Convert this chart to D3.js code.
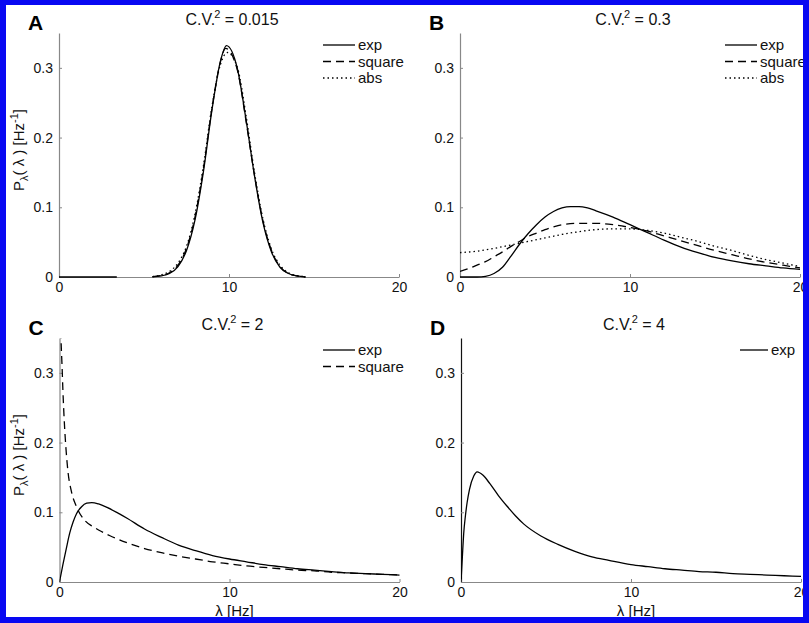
<!DOCTYPE html>
<html>
<head>
<meta charset="utf-8">
<script src="https://cdn.jsdelivr.net/npm/d3@7"></script>
<style>
  body { margin: 0; background: #fff; }
  svg { display: block; font-family: "Liberation Sans", Arial, sans-serif; }
</style>
</head>
<body>
<div id="chart"></div>
<script>
// values (lambda in Hz, density in 1/Hz)
const panelLetters = ["A", "B", "C", "D"];
const cvValues = ["0.015", "0.3", "2", "4"];
const yTickValues = [0, 0.1, 0.2, 0.3];
const xTickValues = [0, 10, 20];

// A: C.V.^2 = 0.015
const aExpX = [0, 3.4, 3.5, 5.5, 6, 6.5, 7, 7.5, 8, 8.5, 9, 9.5, 9.85, 10.5, 11, 11.5, 12, 12.5, 13, 13.5, 14, 14.5];
const aExpY = [0, 0, null, 0.0003, 0.0015, 0.005, 0.015, 0.038, 0.082, 0.152, 0.24, 0.31, 0.332, 0.298, 0.226, 0.145, 0.078, 0.036, 0.014, 0.005, 0.0015, 0];
const aSquareX = [5.5, 6, 6.5, 7, 7.5, 8, 8.5, 9, 9.5, 9.8, 10.5, 11, 11.5, 12, 12.5, 13, 13.5, 14, 14.5];
const aSquareY = [0.0004, 0.002, 0.006, 0.017, 0.041, 0.086, 0.156, 0.242, 0.309, 0.328, 0.296, 0.224, 0.146, 0.08, 0.038, 0.015, 0.005, 0.0015, 0];
const aAbsX = [5.5, 6, 6.5, 7, 7.5, 8, 8.5, 9, 9.5, 9.9, 10.5, 11, 11.5, 12, 12.5, 13, 13.5, 14, 14.5];
const aAbsY = [0.0006, 0.003, 0.008, 0.02, 0.044, 0.09, 0.16, 0.245, 0.305, 0.322, 0.3, 0.232, 0.15, 0.083, 0.04, 0.017, 0.006, 0.002, 0.0005];

// B: C.V.^2 = 0.3
const bExpX = [0, 1, 1.5, 2, 2.5, 3, 3.5, 4, 4.5, 5, 5.5, 6, 6.5, 7, 7.5, 8, 9, 10, 11, 12, 13, 14, 15, 16, 17, 18, 19, 20];
const bExpY = [0, 0, 0.001, 0.005, 0.014, 0.03, 0.047, 0.062, 0.075, 0.086, 0.094, 0.099, 0.101, 0.101, 0.099, 0.095, 0.086, 0.075, 0.064, 0.053, 0.043, 0.035, 0.028, 0.023, 0.019, 0.016, 0.013, 0.011];
const bSquareX = [0, 0.5, 1, 1.5, 2, 2.5, 3, 3.5, 4, 4.5, 5, 5.5, 6, 7, 8, 9, 10, 11, 12, 13, 14, 15, 16, 17, 18, 19, 20];
const bSquareY = [0.008, 0.012, 0.017, 0.022, 0.029, 0.036, 0.044, 0.051, 0.058, 0.063, 0.068, 0.072, 0.075, 0.077, 0.077, 0.075, 0.071, 0.066, 0.059, 0.052, 0.045, 0.038, 0.032, 0.026, 0.021, 0.017, 0.013];
const bAbsX = [0, 1, 2, 3, 4, 5, 6, 7, 8, 9, 10, 11, 12, 13, 14, 15, 16, 17, 18, 19, 20];
const bAbsY = [0.035, 0.037, 0.041, 0.046, 0.051, 0.056, 0.061, 0.065, 0.068, 0.069, 0.069, 0.067, 0.063, 0.057, 0.051, 0.044, 0.038, 0.031, 0.025, 0.02, 0.015];

// C: C.V.^2 = 2
const cExpX = [0, 0.2, 0.4, 0.6, 0.8, 1, 1.3, 1.6, 1.9, 2.3, 2.8, 3.5, 4, 5, 6, 7, 8, 9, 10, 11, 12, 13, 14, 15, 16, 17, 18, 19, 20];
const cExpY = [0, 0.025, 0.048, 0.07, 0.086, 0.098, 0.108, 0.113, 0.114, 0.112, 0.107, 0.098, 0.091, 0.076, 0.064, 0.053, 0.045, 0.038, 0.033, 0.029, 0.025, 0.022, 0.019, 0.017, 0.015, 0.013, 0.012, 0.011, 0.01];
const cSquareX = [0.05, 0.1, 0.15, 0.2, 0.3, 0.4, 0.5, 0.7, 1, 1.5, 2, 2.5, 3, 4, 5, 6, 7, 8, 9, 10, 11, 12, 13, 14, 15, 16, 17, 18, 19, 20];
const cSquareY = [0.38, 0.34, 0.31, 0.275, 0.222, 0.185, 0.158, 0.13, 0.108, 0.088, 0.079, 0.072, 0.066, 0.056, 0.048, 0.042, 0.037, 0.033, 0.029, 0.026, 0.023, 0.021, 0.019, 0.017, 0.016, 0.014, 0.013, 0.012, 0.011, 0.01];

// D: C.V.^2 = 4
const dExpX = [0, 0.08, 0.16, 0.26, 0.36, 0.5, 0.75, 0.95, 1.3, 1.7, 2.2, 2.7, 3.2, 3.7, 4.7, 5.7, 6.7, 7.7, 8.7, 10, 11, 12, 13, 14, 15, 16, 17, 18, 19, 20];
const dExpY = [0, 0.036, 0.07, 0.095, 0.114, 0.133, 0.152, 0.158, 0.153, 0.141, 0.124, 0.109, 0.095, 0.083, 0.066, 0.054, 0.044, 0.036, 0.031, 0.025, 0.022, 0.019, 0.017, 0.015, 0.014, 0.012, 0.011, 0.01, 0.009, 0.008];

const dashes = { exp: null, square: "8,5", abs: "1.5,3" };

const panels = [
  { left: 59, top: 33, bottom: 277, series: [["exp", aExpX, aExpY], ["square", aSquareX, aSquareY], ["abs", aAbsX, aAbsY]], legendX: 323, yLabel: true, xLabel: false },
  { left: 460, top: 33, bottom: 277, series: [["exp", bExpX, bExpY], ["square", bSquareX, bSquareY], ["abs", bAbsX, bAbsY]], legendX: 725, yLabel: false, xLabel: false },
  { left: 59.5, top: 338, bottom: 582, series: [["exp", cExpX, cExpY], ["square", cSquareX, cSquareY]], legendX: 323, yLabel: true, xLabel: true },
  { left: 461, top: 338, bottom: 582, series: [["exp", dExpX, dExpY]], legendX: 740, legendLen: 28, yLabel: false, xLabel: true, darkY: true }
];

const W = 809, H = 623;
const svg = d3.select("#chart").append("svg").attr("width", W).attr("height", H);
svg.append("rect").attr("width", W).attr("height", H).attr("fill", "#fff");

panels.forEach((p, i) => {
  const x = d3.scaleLinear().domain([0, 20]).range([p.left, p.left + 340]);
  const y = d3.scaleLinear().domain([0, 0.35]).range([p.bottom, p.top]);
  const g = svg.append("g");

  // axes (matlab style, ticks inward)
  const yAxis = g.append("g")
    .attr("transform", `translate(${p.left},0)`)
    .call(d3.axisLeft(y).tickValues(yTickValues).tickFormat(d3.format("~g")).tickSize(-3).tickSizeOuter(0).tickPadding(6));
  const xAxis = g.append("g")
    .attr("transform", `translate(0,${p.bottom})`)
    .call(d3.axisBottom(x).tickValues(xTickValues).tickSize(-3).tickSizeOuter(0).tickPadding(5));
  [yAxis, xAxis].forEach((a) => {
    a.selectAll("text").attr("font-size", 14).attr("fill", "#111").attr("font-family", "Liberation Sans, Arial, sans-serif");
    a.selectAll("line").attr("stroke", "#888");
    a.select(".domain").attr("stroke", "#888").attr("stroke-width", 1.2);
  });
  if (p.darkY) yAxis.select(".domain").attr("stroke", "#111");

  const clipId = "clip" + i;
  g.append("clipPath").attr("id", clipId)
    .append("rect").attr("x", p.left).attr("y", p.top).attr("width", 341).attr("height", p.bottom - p.top + 1);

  const line = d3.line()
    .defined((d) => d[1] != null)
    .x((d) => x(d[0]))
    .y((d) => y(d[1]))
    .curve(d3.curveMonotoneX);

  p.series.forEach(([name, xs, ys]) => {
    g.append("path")
      .datum(xs.map((v, k) => [v, ys[k]]))
      .attr("clip-path", `url(#${clipId})`)
      .attr("fill", "none")
      .attr("stroke", "#000")
      .attr("stroke-width", 1.3)
      .attr("stroke-dasharray", dashes[name])
      .attr("d", line);
  });

  // legend
  const len = p.legendLen || 32;
  p.series.forEach(([name], k) => {
    const ly = p.top + 12 + k * 16.5;
    g.append("line")
      .attr("x1", p.legendX).attr("x2", p.legendX + len)
      .attr("y1", ly).attr("y2", ly)
      .attr("stroke", "#000").attr("stroke-width", 1.3)
      .attr("stroke-dasharray", dashes[name]);
    g.append("text")
      .attr("x", p.legendX + len + 3).attr("y", ly + 5)
      .attr("font-size", 15).attr("fill", "#111")
      .text(name);
  });

  // title
  const t = g.append("text")
    .attr("x", p.left + 173).attr("y", p.top - 8)
    .attr("text-anchor", "middle").attr("font-size", 16).attr("fill", "#111");
  t.append("tspan").text("C.V.");
  t.append("tspan").attr("font-size", 11).attr("dx", -1).attr("dy", -7).text("2");
  t.append("tspan").attr("dy", 7).text(" = " + cvValues[i]);

  // panel letter
  g.append("text")
    .attr("x", p.left - 31).attr("y", p.top - 3)
    .attr("font-size", 21).attr("font-weight", "bold").attr("fill", "#000")
    .text(panelLetters[i]);

  if (p.yLabel) {
    const yl = g.append("text")
      .attr("transform", `translate(24,${(p.top + p.bottom) / 2 - 5}) rotate(-90)`)
      .attr("text-anchor", "middle").attr("font-size", 15).attr("fill", "#111");
    yl.append("tspan").text("P");
    yl.append("tspan").attr("font-size", 11).attr("dy", 4).text("λ");
    yl.append("tspan").attr("dy", -4).text("( λ ) [Hz");
    yl.append("tspan").attr("font-size", 11).attr("dy", -6).text("-1");
    yl.append("tspan").attr("dy", 6).text("]");
  }

  if (p.xLabel) {
    g.append("text")
      .attr("x", p.left + 175).attr("y", 616)
      .attr("text-anchor", "middle").attr("font-size", 15).attr("fill", "#111")
      .text("λ [Hz]");
  }
});

// blue frame around the figure
const blue = "#0808f2";
svg.append("rect").attr("x", 0).attr("y", 0).attr("width", W).attr("height", 5).attr("fill", blue);
svg.append("rect").attr("x", 0).attr("y", H - 6).attr("width", W).attr("height", 6).attr("fill", blue);
svg.append("rect").attr("x", 0).attr("y", 0).attr("width", 6).attr("height", H).attr("fill", blue);
svg.append("rect").attr("x", W - 6).attr("y", 0).attr("width", 6).attr("height", H).attr("fill", blue);
</script>
</body>
</html>
